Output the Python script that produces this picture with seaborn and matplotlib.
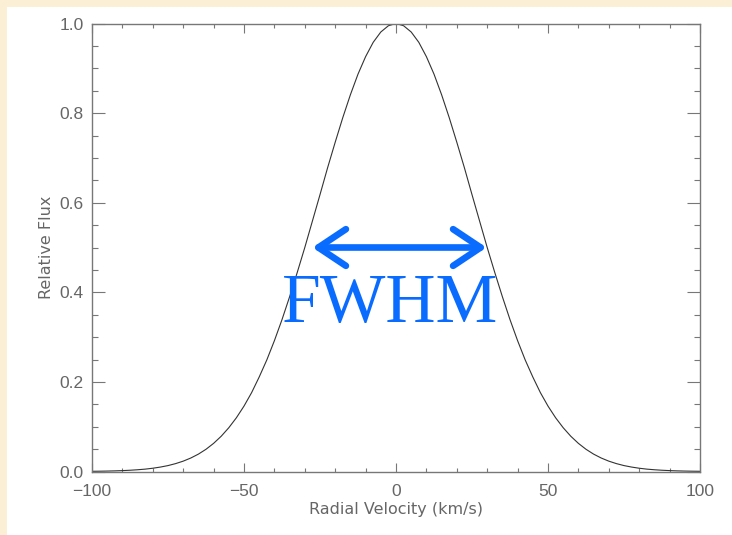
import matplotlib
matplotlib.use("Agg")
import matplotlib.pyplot as plt
import seaborn as sns
import pandas as pd
from matplotlib.patches import Rectangle
from matplotlib.ticker import MultipleLocator

# ---- data (profile is symmetric about 0) ----
half_velocity = [0, 2.5, 5, 7.5, 10, 12.5, 15, 17.5, 20, 22.5, 25, 27.5, 30, 32.5,
                 35, 37.5, 40, 42.5, 45, 47.5, 50, 52.5, 55, 57.5, 60, 62.5, 65,
                 67.5, 70, 72.5, 75, 77.5, 80, 82.5, 85, 87.5, 90, 92.5, 95, 97.5, 100]
half_flux = [1.0, 0.995, 0.981, 0.958, 0.926, 0.887, 0.841, 0.790, 0.735, 0.678,
             0.618, 0.559, 0.500, 0.444, 0.390, 0.339, 0.292, 0.249, 0.211, 0.176,
             0.146, 0.120, 0.0977, 0.0787, 0.0628, 0.0496, 0.0388, 0.0301, 0.0231,
             0.0176, 0.0132, 0.0099, 0.0073, 0.0053, 0.0039, 0.0028, 0.0020,
             0.0014, 0.00097, 0.00067, 0.00046]
velocity = [-v for v in half_velocity[::-1]] + half_velocity[1:]
flux = half_flux[::-1] + half_flux[1:]

x_ticks = [-100, -50, 0, 50, 100]
x_ticklabels = ["\u2212100", "\u221250", "0", "50", "100"]
y_ticks = [0.0, 0.2, 0.4, 0.6, 0.8, 1.0]
y_ticklabels = ["0.0", "0.2", "0.4", "0.6", "0.8", "1.0"]
fwhm_left, fwhm_right, half_level = -27.5, 29.8, 0.5
label_text = "FWHM"

df = pd.DataFrame({"velocity": velocity, "flux": flux})

sns.set_theme(style="white")
plt.rcParams["font.family"] = ["Liberation Sans", "DejaVu Sans"]

fig = plt.figure(figsize=(7.32, 5.35), dpi=100)
fig.patch.set_facecolor("#fbf0d6")
fig.add_artist(Rectangle((7 / 732, 0), 1 - 7 / 732, 1 - 7 / 535,
                         transform=fig.transFigure, facecolor="white",
                         edgecolor="none", zorder=-10))
ax = fig.add_axes([92 / 732, 1 - 471.5 / 535, 608 / 732, 448 / 535])
ax.set_facecolor("white")
ax.set_zorder(1)

sns.lineplot(data=df, x="velocity", y="flux", ax=ax, color="#333333", linewidth=0.8)

ax.set_xlim(-100, 100)
ax.set_ylim(0, 1.0)
ax.set_xticks(x_ticks)
ax.set_xticklabels(x_ticklabels)
ax.set_yticks(y_ticks)
ax.set_yticklabels(y_ticklabels)
ax.xaxis.set_minor_locator(MultipleLocator(10))
ax.yaxis.set_minor_locator(MultipleLocator(0.05))

gray = "#666666"
for s in ax.spines.values():
    s.set_color("#777777")
    s.set_linewidth(1.0)

ax.tick_params(axis="x", which="major", direction="in", length=6.5, width=0.8,
               color="#777777", top=True, bottom=True, labelsize=12.5,
               labelcolor=gray, pad=9)
ax.tick_params(axis="x", which="minor", direction="in", length=3.2, width=0.8,
               color="#777777", top=True, bottom=True)
ax.tick_params(axis="y", which="major", direction="in", length=9.4, width=0.8,
               color="#777777", left=True, right=True, labelsize=12.5,
               labelcolor=gray, pad=6)
ax.tick_params(axis="y", which="minor", direction="in", length=4.5, width=0.8,
               color="#777777", left=True, right=True)

ax.set_xlabel("Radial Velocity (km/s)", fontsize=11.5, color=gray, labelpad=2,
              family=["DejaVu Sans"])
ax.set_ylabel("Relative Flux", fontsize=11.5, color=gray, labelpad=4,
              family=["DejaVu Sans"])

ax.annotate("", xy=(fwhm_right, half_level), xytext=(fwhm_left, half_level),
            arrowprops=dict(arrowstyle="<->, head_length=0.9, head_width=0.6",
                            color="#0a6cff", linewidth=4.8, shrinkA=0, shrinkB=0,
                            mutation_scale=22, capstyle="round", joinstyle="round"))
ax.text(-2, 0.333, label_text, ha="center", va="baseline", color="#0a6cff",
        fontsize=50, family=["Liberation Serif", "DejaVu Serif"])

fig.savefig("out.png", dpi=100, facecolor=fig.get_facecolor())
